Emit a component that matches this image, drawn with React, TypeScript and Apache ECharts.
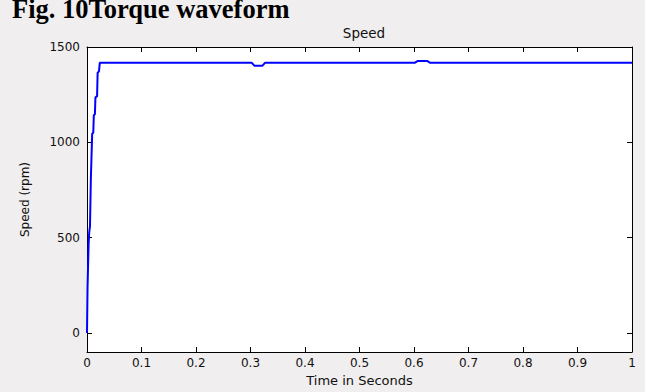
import React, { useEffect, useRef } from "react";
import * as echarts from "echarts";

const chartTitle = "Speed";
const caption = "Fig. 10Torque waveform";
const xName = "Time in Seconds";
const yName = "Speed (rpm)";
const yMin = -100;
const yMax = 1500;
const yTickStep = 500;

const timeSec = [0, 0.001, 0.001, 0.003, 0.004, 0.0055, 0.007, 0.0095, 0.0115, 0.0125, 0.0145, 0.0155, 0.0185, 0.0195, 0.022, 0.0235, 0.302, 0.307, 0.322, 0.327, 0.602, 0.607, 0.624, 0.629, 1.0];
const speedRpm = [0, 0, 240, 470, 525, 560, 800, 1045, 1050, 1142, 1147, 1236, 1242, 1365, 1372, 1418, 1418, 1402, 1402, 1418, 1418, 1427, 1427, 1418, 1418];

export default function App() {
  const ref = useRef<HTMLDivElement>(null);
  useEffect(() => {
    document.body.style.margin = "0";
    const chart = echarts.init(ref.current!, null, { renderer: "svg" });
    const font = "DejaVu Sans";
    const tickStyle = { show: true, inside: true, length: 5, lineStyle: { color: "#000", width: 1 } };
    const lineStyle = { show: true, onZero: false, lineStyle: { color: "#000", width: 1 } };
    const gridTop = 47;
    const gridBottom = 40;
    const plotH = 392 - gridTop - gridBottom;
    // inner grid starts at value 0 (same px/unit scale as the frame grid)
    const innerBottom = gridBottom + (plotH * (0 - yMin)) / (yMax - yMin);
    chart.setOption({
      animation: false,
      backgroundColor: "#f0eeee",
      title: {
        text: chartTitle,
        left: 359,
        textAlign: "center",
        top: 21,
        textStyle: { fontFamily: font, fontSize: 13.5, fontWeight: "normal", color: "#111" },
      },
      graphic: [
        {
          type: "text",
          x: 12,
          y: 9,
          style: {
            text: caption,
            fontFamily: "Liberation Serif",
            fontWeight: "bold",
            fontSize: 26.5,
            lineHeight: 18,
            fill: "#000",
            verticalAlign: "middle",
          },
        },
      ],
      grid: [
        {
          left: 87,
          top: gridTop,
          right: 13,
          bottom: gridBottom,
          show: true,
          backgroundColor: "#fff",
          borderWidth: 0,
        },
        {
          left: 87,
          top: gridTop,
          right: 13,
          bottom: innerBottom,
          show: false,
        },
      ],
      xAxis: [
        {
          gridIndex: 0,
          type: "value",
          min: 0,
          max: 1,
          interval: 0.1,
          position: "bottom",
          name: xName,
          nameLocation: "middle",
          nameGap: 22,
          nameTextStyle: { fontFamily: font, fontSize: 13, color: "#111" },
          axisLine: lineStyle,
          axisTick: tickStyle,
          splitLine: { show: false },
          axisLabel: {
            margin: 5,
            fontFamily: font,
            fontSize: 12,
            color: "#111",
            formatter: (v: number) => String(Math.round(v * 10) / 10),
          },
        },
        {
          gridIndex: 0,
          type: "value",
          min: 0,
          max: 1,
          interval: 0.1,
          position: "top",
          axisLine: lineStyle,
          axisTick: tickStyle,
          splitLine: { show: false },
          axisLabel: { show: false },
        },
        {
          gridIndex: 1,
          type: "value",
          min: 0,
          max: 1,
          show: false,
        },
      ],
      yAxis: [
        {
          gridIndex: 0,
          type: "value",
          min: yMin,
          max: yMax,
          position: "left",
          name: yName,
          nameLocation: "middle",
          nameGap: 56,
          nameTextStyle: { fontFamily: font, fontSize: 12, color: "#111" },
          axisLine: lineStyle,
          axisTick: { show: false },
          splitLine: { show: false },
          axisLabel: { show: false },
        },
        {
          gridIndex: 0,
          type: "value",
          min: yMin,
          max: yMax,
          position: "right",
          axisLine: lineStyle,
          axisTick: { show: false },
          splitLine: { show: false },
          axisLabel: { show: false },
        },
        {
          gridIndex: 1,
          type: "value",
          min: 0,
          max: yMax,
          interval: yTickStep,
          position: "left",
          axisLine: { show: false },
          axisTick: tickStyle,
          splitLine: { show: false },
          axisLabel: {
            margin: 7,
            fontFamily: font,
            fontSize: 12,
            color: "#111",
            formatter: (v: number) => String(v),
          },
        },
        {
          gridIndex: 1,
          type: "value",
          min: 0,
          max: yMax,
          interval: yTickStep,
          position: "right",
          axisLine: { show: false },
          axisTick: tickStyle,
          splitLine: { show: false },
          axisLabel: { show: false },
        },
      ],
      series: [
        {
          type: "line",
          xAxisIndex: 2,
          yAxisIndex: 2,
          data: timeSec.map((t, i) => [t, speedRpm[i]]),
          showSymbol: false,
          symbol: "none",
          lineStyle: { color: "#0000ff", width: 2 },
          clip: false,
        },
      ],
    });
    return () => chart.dispose();
  }, []);
  return <div ref={ref} style={{ width: 645, height: 392 }} />;
}
